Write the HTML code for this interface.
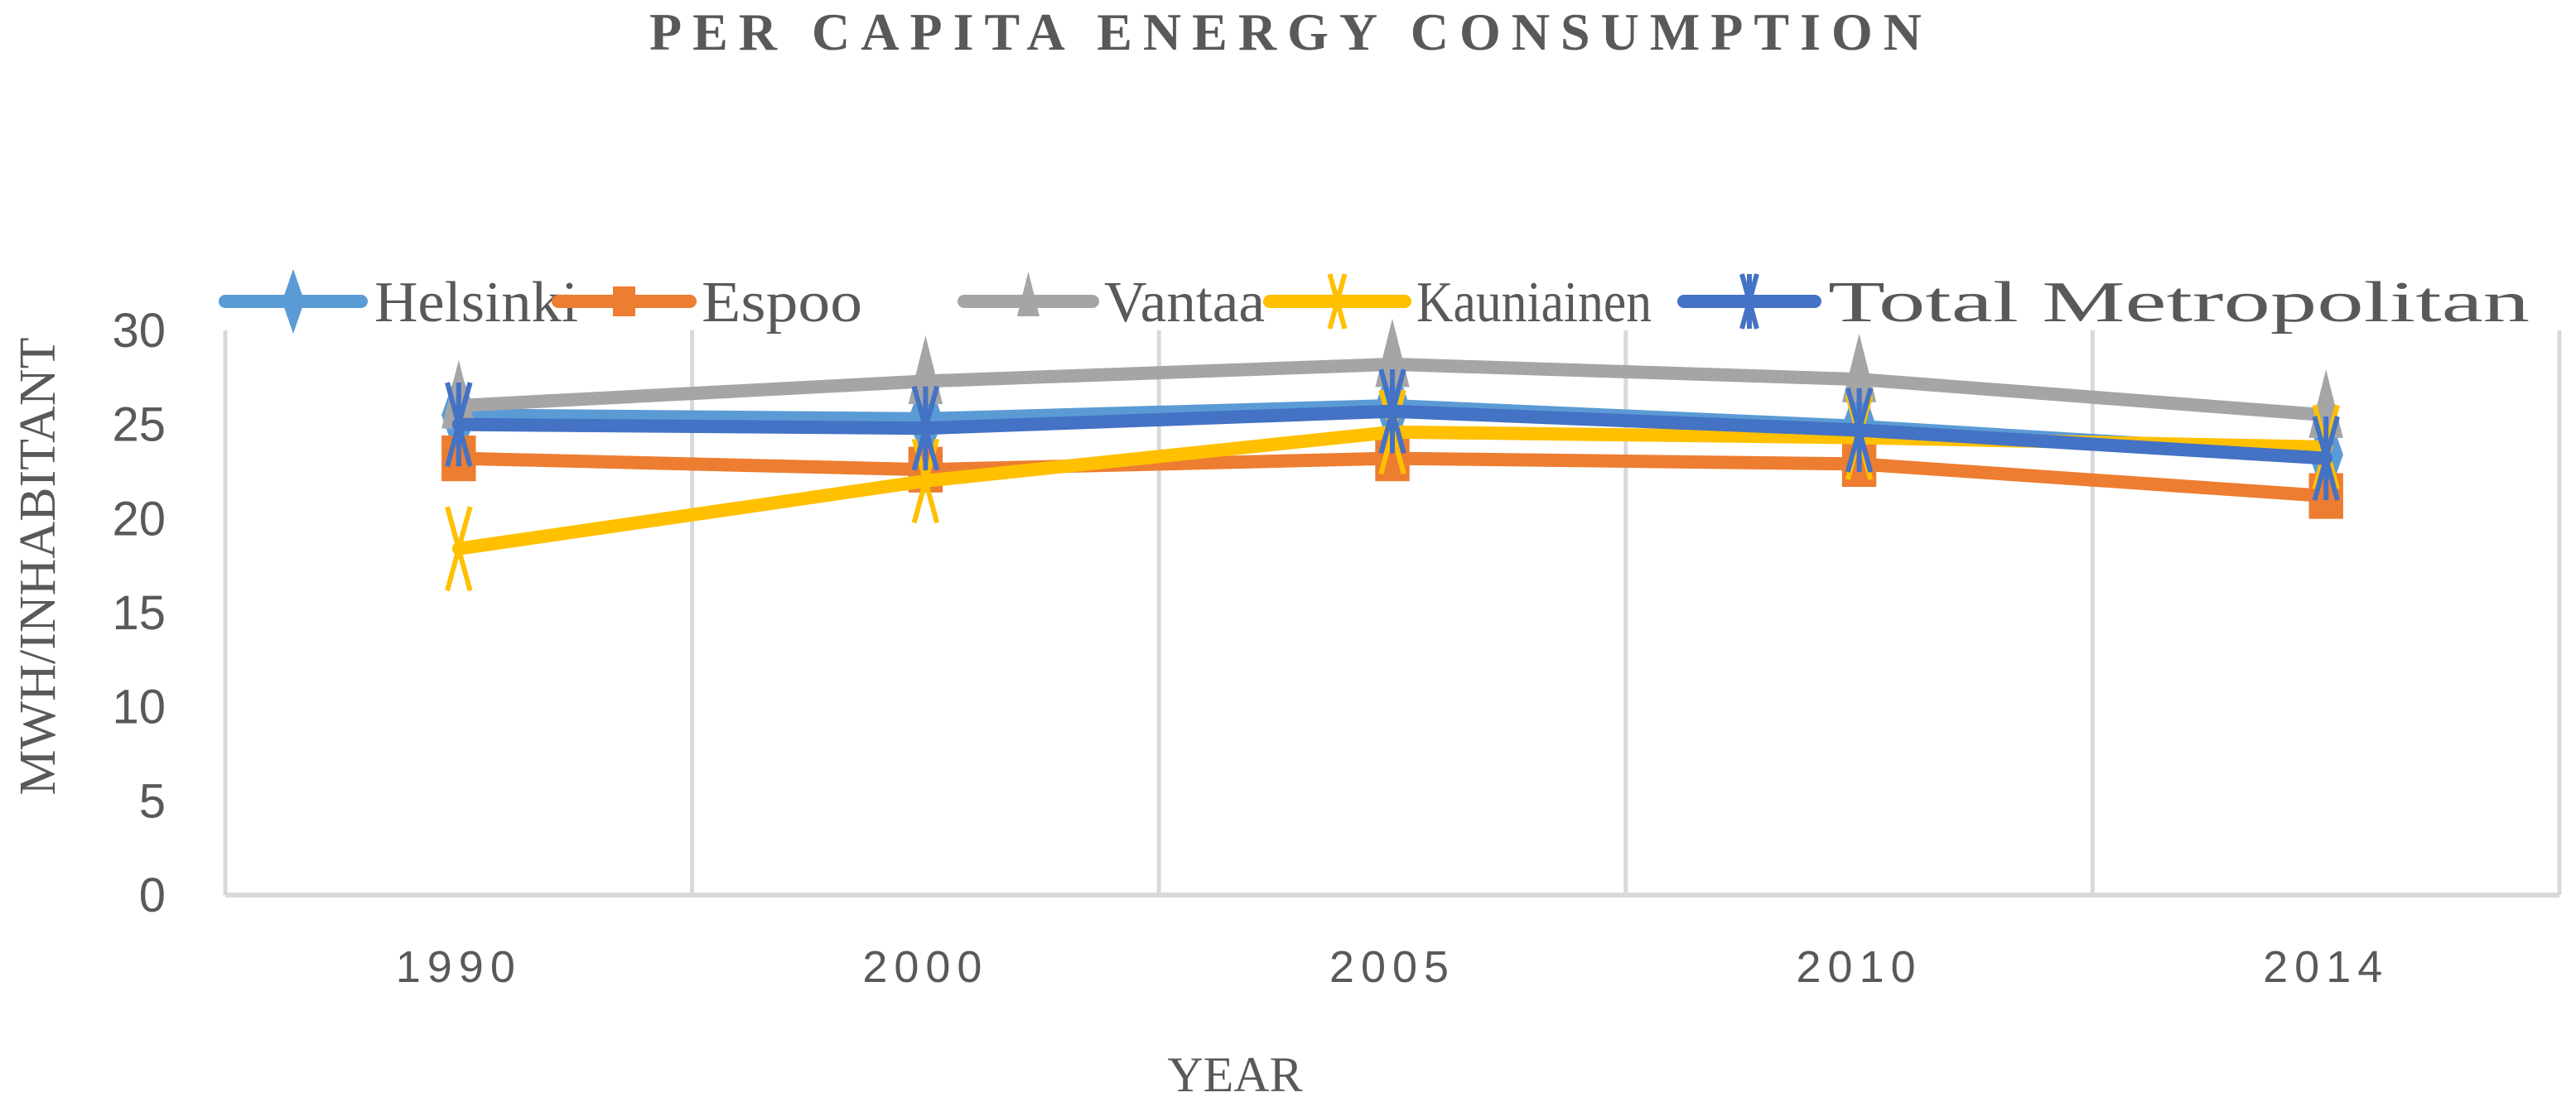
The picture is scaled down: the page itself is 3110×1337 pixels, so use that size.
<!DOCTYPE html>
<html><head><meta charset="utf-8"><style>
html,body{margin:0;padding:0;background:#fff;}
svg{display:block;}
</style></head><body>
<svg id="chart" width="3110" height="1337" viewBox="0 0 3110 1337" xmlns="http://www.w3.org/2000/svg">
<text x="784" y="60" textLength="1536" lengthAdjust="spacing" font-family="Liberation Serif, serif" font-weight="bold" font-size="64" fill="#595959">PER CAPITA ENERGY CONSUMPTION</text>
<g id="grid"></g>
<g id="axes"></g>
<g id="series"></g>
<g id="legend"></g>
<text transform="translate(66,684) rotate(-90)" text-anchor="middle" font-family="Liberation Serif, serif" font-size="62" fill="#595959">MWH/INHABITANT</text>
<text x="1491" y="1318" text-anchor="middle" font-family="Liberation Serif, serif" font-size="60" fill="#595959">YEAR</text>
</svg>
<script>
const categories = ["1990","2000","2005","2010","2014"];
const yTicks = [0,5,10,15,20,25,30];
const seriesNames = ["Helsinki","Espoo","Vantaa","Kauniainen","Total Metropolitan"];
const helsinki = [25.5,25.3,26.0,24.9,23.4];
const espoo = [23.2,22.6,23.2,22.9,21.2];
const vantaa = [26.0,27.3,28.2,27.4,25.5];
const kauniainen = [18.4,22.0,24.6,24.3,23.8];
const totalMetro = [25.0,24.8,25.7,24.7,23.2];

const NS="http://www.w3.org/2000/svg";
const L=272,R=3090,T=399,B=1081;
const bw=(R-L)/categories.length;
const xs=i=>L+bw*(i+0.5);
const ys=v=>B-(v/30)*(B-T);
function mk(tag,attrs,parent){const e=document.createElementNS(NS,tag);for(const k in attrs)e.setAttribute(k,attrs[k]);parent.appendChild(e);return e;}
const grid=document.getElementById('grid'),axes=document.getElementById('axes'),ser=document.getElementById('series'),leg=document.getElementById('legend');
for(let i=0;i<=categories.length;i++){
  const g=mk('line',{x1:L+bw*i,x2:L+bw*i,y1:T,y2:B,stroke:'#d9d9d9','stroke-width':5},grid);
  
  
}
const ax=mk('line',{x1:L,x2:R,y1:B,y2:B,stroke:'#d9d9d9','stroke-width':6},axes);


yTicks.forEach(v=>{
  const t=mk('text',{x:200,y:ys(v)+20,'text-anchor':'end','font-family':'Liberation Sans, sans-serif','font-size':58,fill:'#595959'},axes);
  t.textContent=v;
  
  
});
categories.forEach((c,i)=>{
  const t=mk('text',{x:xs(i),y:1186,'text-anchor':'middle','font-family':'Liberation Sans, sans-serif','font-size':54,'letter-spacing':8,fill:'#595959'},axes);
  t.textContent=c;
  
  
});
const colors=["#5b9bd5","#ed7d31","#a5a5a5","#ffc000","#4472c4"];
const markers=["diamond","square","triangle","x","star"];
const data=[helsinki,espoo,vantaa,kauniainen,totalMetro];
function marker(type,x,y,c,p,s){
  let e;
  if(type==='diamond') e=mk('path',{d:`M${x},${y-s*1.3} L${x+s*0.45},${y} L${x},${y+s*1.3} L${x-s*0.45},${y}Z`,fill:c},p);
  else if(type==='square') e=mk('rect',{x:x-s*0.45,y:y-s*0.6,width:s*0.9,height:s*1.2,fill:c},p);
  else if(type==='triangle') e=mk('path',{d:`M${x},${y-s*1.2} L${x+s*0.45},${y+s*0.6} L${x-s*0.45},${y+s*0.6}Z`,fill:c},p);
  else if(type==='x') e=mk('path',{d:`M${x-s*0.3},${y-s*1.1} L${x+s*0.3},${y+s*1.1} M${x+s*0.3},${y-s*1.1} L${x-s*0.3},${y+s*1.1}`,stroke:c,'stroke-width':6,fill:'none'},p);
  else e=mk('path',{d:`M${x-s*0.3},${y-s*1.1} L${x+s*0.3},${y+s*1.1} M${x+s*0.3},${y-s*1.1} L${x-s*0.3},${y+s*1.1} M${x},${y-s*1.1} L${x},${y+s*1.1}`,stroke:c,'stroke-width':6,fill:'none'},p);
  return e;
}
data.forEach((arr,si)=>{
  const g=mk('g',{},ser);
  
  
  const pl=mk('polyline',{points:arr.map((v,i)=>xs(i)+','+ys(v)).join(' '),fill:'none',stroke:colors[si],'stroke-width':16,'stroke-linejoin':'round','stroke-linecap':'round'},g);
  
  
  arr.forEach((v,i)=>{
    const m=marker(markers[si],xs(i),ys(v),colors[si],g,46);
    
    
  });
});
const legX=[[272,436,452,246],[674,833,847,194],[1164,1319,1333,194],[1533,1696,1710,284],[2033,2191,2207,847]];
seriesNames.forEach((n,i)=>{
  const g=mk('g',{},leg);
  
  
  const [x1,x2,tx,tw]=legX[i];
  mk('line',{x1:x1,x2:x2,y1:364,y2:364,stroke:colors[i],'stroke-width':16,'stroke-linecap':'round'},g);
  marker(markers[i],(x1+x2)/2,364,colors[i],g,30);
  const t=mk('text',{x:tx,y:388,'font-family':'Liberation Serif, serif','font-size':70,fill:'#595959',textLength:tw,lengthAdjust:'spacingAndGlyphs'},g);
  t.textContent=n;
});
</script>
</body></html>
